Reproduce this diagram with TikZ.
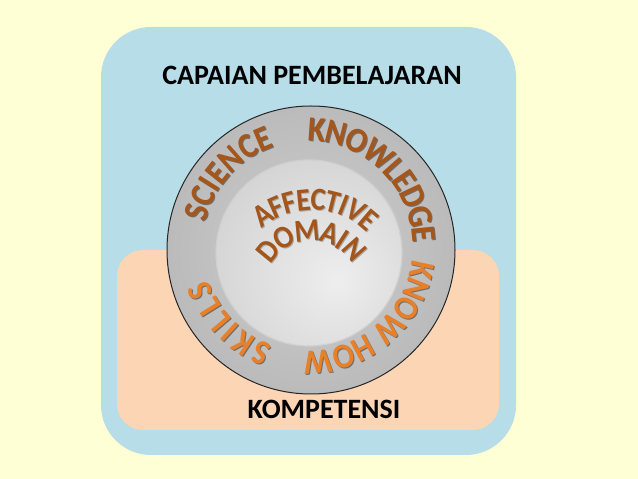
\documentclass[tikz,border=0pt]{standalone}
\usepackage{fontspec}
\setmainfont{Carlito}
\newfontfamily\narrowfam[FakeStretch=0.9]{Carlito}
\usetikzlibrary{decorations.text}
\definecolor{bgyellow}{HTML}{FFFFD5}
\definecolor{bluefill}{HTML}{B7DDE8}
\definecolor{peachfill}{HTML}{FCD5B5}
\definecolor{ringA}{HTML}{CECECE}
\definecolor{ringB}{HTML}{B6B6B6}
\definecolor{ringM}{HTML}{979797}
\definecolor{ringC}{HTML}{595959}
\definecolor{discA}{HTML}{EEEEEE}
\definecolor{discB}{HTML}{C6C6C6}
\definecolor{discrim}{HTML}{D0D0D0}
\definecolor{topbrown}{HTML}{A5561A}
\definecolor{botorange}{HTML}{E8802A}
\definecolor{midbrown}{HTML}{A3561C}
\definecolor{ringshadow}{HTML}{6E6E6E}
\definecolor{discshadow}{HTML}{A8A8A8}
\pgfdeclareradialshading{ringshade}{\pgfpoint{0bp}{0bp}}{color(0bp)=(ringA); color(31bp)=(ringB); color(40bp)=(ringM); color(50bp)=(ringC); color(60bp)=(ringC)}
\pgfdeclareradialshading{discshade}{\pgfpoint{8bp}{-8bp}}{color(0bp)=(discA); color(50bp)=(discB); color(75bp)=(discB)}
\newcommand\ringfont{\narrowfam\fontsize{35}{35}\selectfont\bfseries}
\newcommand\midfont{\narrowfam\fontsize{32}{32}\selectfont\bfseries}
\tikzset{
  panel/.style={rectangle, draw=none, inner sep=0pt, outer sep=0pt},
  title/.style={font=\fontsize{28}{28}\selectfont\bfseries, text=black, inner sep=0pt},
  arclabel/.style 2 args={decorate, decoration={text along path, text align=fit to path, raise=#1, text={#2}}}
}
% #1 centre, #2 start angle, #3 end angle, #4 radius, #5 font/raise style, #6 shadow colour, #7 colour, #8 text
\newcommand\arctext[8]{%
  \path[arclabel={#5}{|\ifdim#5<-10.5pt\ringfont\else\midfont\fi\color{#6}|#8}] ([shift={(1,-1)}]#1) ++(#2:#4) arc[start angle=#2, end angle=#3, radius=#4];
  \path[arclabel={#5}{|\ifdim#5<-10.5pt\ringfont\else\midfont\fi\color{#7}|#8}] (#1) ++(#2:#4) arc[start angle=#2, end angle=#3, radius=#4];
}
\begin{document}
\begin{tikzpicture}[x=1pt,y=1pt]
\useasboundingbox (0,0) rectangle (638,479);
\fill[bgyellow] (0,0) rectangle (638,479);
\node[panel, fill=bluefill, minimum width=415pt, minimum height=428pt, rounded corners=50pt] (cp) at (308.5,238) {};
\node[panel, fill=peachfill, minimum width=382pt, minimum height=180pt, rounded corners=26pt] (komp) at (308,139) {};
\node[circle, minimum size=288pt, inner sep=0pt, shading=ringshade, draw=black!85, line width=1pt] (ring) at (311,229) {};
\node[circle, minimum size=186pt, inner sep=0pt, shading=discshade, draw=discrim, line width=1.2pt] (disc) at (309,226) {};
\coordinate (tc) at (308,233);
\coordinate (mc) at (312,192);
\arctext{tc}{167}{109}{116}{-11pt}{ringshadow}{topbrown}{SCIENCE}
\arctext{tc}{90}{2}{116}{-11pt}{ringshadow}{topbrown}{KNOWLEDGE}
\arctext{tc}{-8}{-92}{116}{-11pt}{ringshadow}{botorange}{KNOW HOW}
\arctext{tc}{250}{199}{116}{-11pt}{ringshadow}{botorange}{SKILLS}
\arctext{mc}{130}{45}{87}{-10pt}{discshadow}{midbrown}{AFFECTIVE}
\arctext{mc}{150}{32}{56}{-10pt}{discshadow}{midbrown}{DOMAIN}
\node[title] (cptitle) at (312,404) {CAPAIAN PEMBELAJARAN};
\node[title] (komptitle) at (324,70) {KOMPETENSI};
\end{tikzpicture}
\end{document}
